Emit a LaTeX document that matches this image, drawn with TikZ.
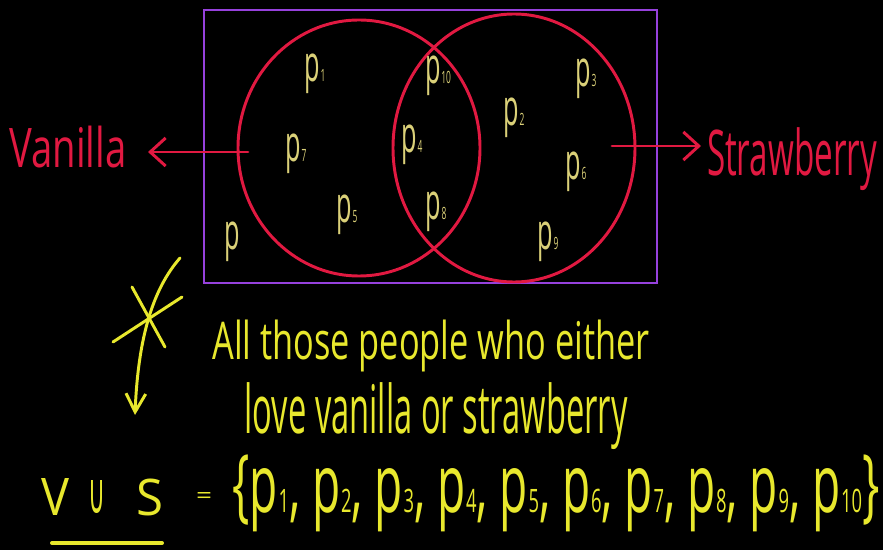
\documentclass[tikz,border=0pt]{standalone}
\usepackage{fontspec}
\usepackage{graphicx}
\setmainfont{Open Sans}
\newfontfamily\symfont{DejaVu Sans}
\usetikzlibrary{arrows.meta,shapes.geometric}
\newlength\pxu
\setlength\pxu{0.025cm}
\definecolor{bgblack}{RGB}{0,0,0}
\definecolor{boxpurple}{RGB}{150,65,220}
\definecolor{ringred}{RGB}{225,25,65}
\definecolor{chalkyellow}{RGB}{232,232,45}
\definecolor{labelyellow}{RGB}{218,208,120}
\newcommand\fitto[3]{\resizebox*{#1\pxu}{#2\pxu}{#3}}
\newcommand\lbl[1]{\scalebox{0.5}[1]{\fontsize{36}{36}\selectfont p\kern1pt{\fontsize{12}{12}\selectfont #1}}}
\newcommand\setel[1]{p\kern0.5pt{\fontsize{16}{16}\selectfont #1}}
\tikzset{
  pen/.style={line width=2.1pt, line cap=round},
  ring/.style={pen, draw=ringred, ellipse},
  plabel/.style={text=labelyellow, inner sep=0pt},
  chalk/.style={text=chalkyellow, inner sep=0pt},
  redtext/.style={text=ringred, inner sep=0pt},
  redarrow/.style={pen, draw=ringred, -{Straight Barb[length=11pt,width=20pt,line width=2.1pt]}},
  yelline/.style={pen, draw=chalkyellow},
}
\begin{document}
\begin{tikzpicture}[x=0.025cm, y=-0.025cm]
\fill[bgblack] (0,0) rectangle (883,550);
\useasboundingbox (0,0) rectangle (883,550);
% universe
\node[pen, draw=boxpurple, minimum width=453\pxu, minimum height=273\pxu, inner sep=0pt] (universe) at (430.5,146.5) {};
% circles
\node[ring, minimum width=242\pxu, minimum height=256\pxu, inner sep=0pt] (vset) at (359,148) {};
\node[ring, minimum width=242\pxu, minimum height=268\pxu, inner sep=0pt] (sset) at (514,148) {};
% labels inside
\node[plabel] (p1) at (315,74) {\lbl{1}};
\node[plabel] (p10) at (438,76) {\lbl{10}};
\node[plabel] (p7) at (296,154) {\lbl{7}};
\node[plabel] (p4) at (412,145) {\lbl{4}};
\node[plabel] (p5) at (347,215) {\lbl{5}};
\node[plabel] (p8) at (436,212) {\lbl{8}};
\node[plabel] (p0) at (233,242) {\lbl{}};
\node[plabel] (p3) at (586,79) {\lbl{3}};
\node[plabel] (p2) at (514,118) {\lbl{2}};
\node[plabel] (p6) at (576,172) {\lbl{6}};
\node[plabel] (p9) at (548,242) {\lbl{9}};
% side labels
\node[redtext] (vanilla) at (68,147) {\fitto{117}{42}{Vanilla}};
\node[redtext] (straw) at (792,159) {\fitto{170}{63}{Strawberry}};
\coordinate (vaS) at (248,152);
\coordinate (vaE) at (148,152);
\coordinate (stS) at (612,146);
\coordinate (stE) at (701,146);
\draw[redarrow] (vaS) -- (vaE);
\draw[redarrow] (stS) -- (stE);
% star with arrow
\coordinate (sa) at (180,258);
\coordinate (sb) at (135,415);
\coordinate (l1a) at (132,287);
\coordinate (l1b) at (165,347);
\coordinate (l2a) at (182,297);
\coordinate (l2b) at (113,342);
\draw[yelline] (l1a) -- (l1b);
\draw[yelline] (l2a) -- (l2b);
\draw[yelline, -{Straight Barb[length=13pt,width=14pt,line width=2.1pt]}] (sa) .. controls (152,290) and (138,340) .. (sb);
% description
\node[chalk] (line1) at (431,346) {\fitto{437}{52}{All those people who either}};
\node[chalk] (line2) at (436,416) {\fitto{383}{67}{love vanilla or strawberry}};
% set expression
\node[chalk] (vV) at (56,497) {\fitto{28}{37}{V}};
\node[chalk] (vU) at (97,497) {\fitto{17}{33}{\symfont ∪}};
\node[chalk] (vS) at (150,497) {\fitto{27}{37}{S}};
\coordinate (ulA) at (52,543);
\coordinate (ulB) at (162,543);
\draw[yelline, line width=2.8pt] (ulA) -- (ulB);
\node[chalk] (eq) at (204,498) {\fitto{16}{11}{=}};
\node[chalk] (setlist) at (556,493) {\fitto{647}{77}{\fontsize{40}{40}\selectfont\{\setel{1}, \setel{2}, \setel{3}, \setel{4}, \setel{5}, \setel{6}, \setel{7}, \setel{8}, \setel{9}, \setel{10}\}}};
\end{tikzpicture}
\end{document}
